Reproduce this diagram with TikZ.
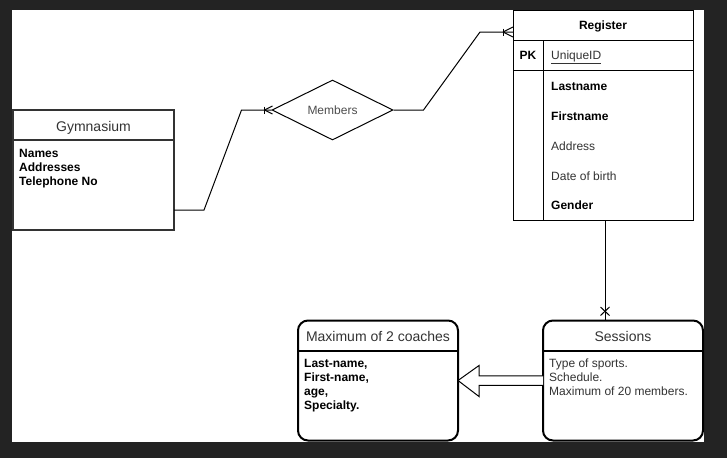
\documentclass[tikz,border=0pt]{standalone}
\usepackage{fontspec}
\setmainfont{Liberation Sans}
\usetikzlibrary{calc,shapes.geometric}
\definecolor{bgdark}{HTML}{232323}
\definecolor{txtgray}{HTML}{333333}
\definecolor{lightgray}{HTML}{4D4D4D}
\begin{document}
\begin{tikzpicture}[x=1pt,y=-1pt,
  box/.style={inner sep=0pt, outer sep=0pt, anchor=north west},
  gymbox/.style={box, draw=txtgray, line width=2pt, fill=white},
  roundbox/.style={box, draw=black, line width=2pt, rounded corners=10pt, fill=white},
  regbox/.style={box, draw=black, line width=1pt, fill=white},
  conn/.style={draw=black, line width=1pt},
  ttl/.style={inner sep=0pt, anchor=base, font=\fontsize{14}{16}\selectfont, text=txtgray},
  item/.style={inner sep=0pt, anchor=base west, font=\fontsize{12}{14}\selectfont\bfseries, text=black},
  plain/.style={inner sep=0pt, anchor=base west, font=\fontsize{12}{14}\selectfont, text=txtgray},
]
\useasboundingbox (0,0) rectangle (727,458);
\fill[bgdark] (0,0) rectangle (727,458);
\fill[white] (12,10) rectangle (704,442);

% Gymnasium
\node[gymbox, minimum width=161pt, minimum height=120pt] (gym) at (13,110) {};
\draw[txtgray, line width=2pt] ($(gym.north west)+(0,30)$) -- ($(gym.north east)+(0,30)$);
\node[ttl] (gymt) at (93.5,131) {Gymnasium};
\node[item] (g1) at (19,157.5) {Names};
\node[item] (g2) at (19,171.5) {Addresses};
\node[item] (g3) at (19,185.5) {Telephone No};

% Members diamond
\node[diamond, draw=black, line width=1pt, minimum width=121pt, minimum height=60pt, inner sep=0pt, aspect=2, fill=white] (mem) at (332.5,110) {};
\node[inner sep=0pt, anchor=base, font=\fontsize{12}{14}\selectfont, text=lightgray] (memt) at (332.5,114.3) {Members};

% Register
\node[regbox, minimum width=180pt, minimum height=210pt] (reg) at (513,10.5) {};
\draw[line width=1pt] ($(reg.north west)+(0,30)$) -- ($(reg.north east)+(0,30)$);
\draw[line width=1pt] ($(reg.north west)+(0,60)$) -- ($(reg.north east)+(0,60)$);
\draw[line width=1pt] ($(reg.north west)+(30,30)$) -- ($(reg.south west)+(30,0)$);
\node[inner sep=0pt, anchor=base, font=\fontsize{12}{14}\selectfont\bfseries] (regt) at (603,29.5) {Register};
\node[inner sep=0pt, anchor=base, font=\fontsize{12}{14}\selectfont\bfseries] (pk) at (528,59.5) {PK};
\node[plain] (uid) at (551,59.5) {\underline{UniqueID}};
\node[item] (r1) at (551,90) {Lastname};
\node[item] (r2) at (551,120) {Firstname};
\node[plain] (r3) at (551,150) {Address};
\node[plain] (r4) at (551,180) {Date of birth};
\node[item] (r5) at (551,209.5) {Gender};

% Coaches
\node[roundbox, minimum width=160pt, minimum height=120pt] (coach) at (298,320.5) {};
\draw[line width=2pt] ($(coach.north west)+(0,30)$) -- ($(coach.north east)+(0,30)$);
\node[ttl] (coacht) at (378,341) {Maximum of 2 coaches};
\node[item] (c1) at (304,367.5) {Last-name,};
\node[item] (c2) at (304,381.5) {First-name,};
\node[item] (c3) at (304,395.5) {age,};
\node[item] (c4) at (304,409.5) {Specialty.};

% Sessions
\node[roundbox, minimum width=160pt, minimum height=120pt] (sess) at (543,320.5) {};
\draw[line width=2pt] ($(sess.north west)+(0,30)$) -- ($(sess.north east)+(0,30)$);
\node[ttl] (sesst) at (623,341) {Sessions};
\node[plain] (s1) at (549,367.5) {Type of sports.};
\node[plain] (s2) at (549,381.5) {Schedule.};
\node[plain] (s3) at (549,395.5) {Maximum of 20 members.};

% Gymnasium -> Members
\coordinate (gstart) at ($(gym.south east)+(0,-20)$);
\draw[conn] (gstart) -- ++(30,0) -- ($(mem.west)+(-30,0)$) -- (mem.west);
\draw[conn] ($(mem.west)+(-7,-3.5)$) -- ($(mem.west)+(-7,3.5)$);
\draw[conn] ($(mem.west)+(-7,0)$) -- ($(mem.west)+(1,-4)$);
\draw[conn] ($(mem.west)+(-7,0)$) -- ($(mem.west)+(1,4)$);

% Members -> Register
\coordinate (rend) at ($(reg.north west)+(0,21.5)$);
\draw[conn] (mem.east) -- ++(30,0) -- ($(rend)+(-33,0)$) -- (rend);
\draw[conn] ($(rend)+(-10,-3.5)$) -- ($(rend)+(-10,3.5)$);
\draw[conn] ($(rend)+(-10,0)$) -- ($(rend)+(0,-5)$);
\draw[conn] ($(rend)+(-10,0)$) -- ($(rend)+(0,5)$);

% Register -> Sessions
\coordinate (rs) at ($(reg.south)+(2,0)$);
\coordinate (se) at (rs |- sess.north);
\draw[conn] (rs) -- (se);
\draw[conn] ($(se)+(-4.5,-13.5)$) -- ($(se)+(4.5,-5)$);
\draw[conn] ($(se)+(4.5,-13.5)$) -- ($(se)+(-4.5,-5)$);

% Sessions -> Coaches hollow block arrow
\draw[conn, fill=white] ($(sess.west)+(0,-4.75)$) -- ($(coach.east)+(21,-4.75)$) -- ($(coach.east)+(21,-15)$) -- (coach.east) -- ($(coach.east)+(21,16)$) -- ($(coach.east)+(21,4.75)$) -- ($(sess.west)+(0,4.75)$);
\end{tikzpicture}
\end{document}
